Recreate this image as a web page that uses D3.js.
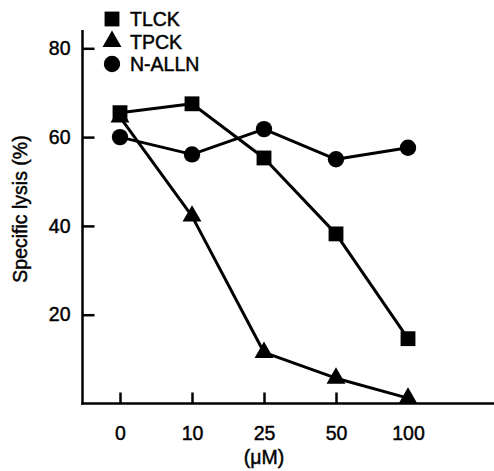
<!DOCTYPE html>
<html><head><meta charset="utf-8">
<script src="https://cdn.jsdelivr.net/npm/d3@7"></script>
<style>
html,body{margin:0;padding:0;background:#fff;}
text{font-family:"Liberation Sans",Arial,Helvetica,sans-serif;fill:#000;stroke:#000;stroke-width:0.45px;}
</style></head>
<body><svg id="c" width="494" height="471"></svg>
<script>
const categories = ["0","10","25","50","100"];
const seriesNames = ["TLCK","TPCK","N-ALLN"];
const tlck = [65.5, 67.5, 55.3, 38.2, 14.6];
const tpck = [64.5, 42.2, 11.5, 5.7, 1.2];
const nalln = [60.0, 56.1, 61.8, 55.0, 57.6];
const yTicks = [20, 40, 60, 80];
const xTitle = "(\u03bcM)";
const yTitle = "Specific lysis (%)";

const svg = d3.select("#c");
const x = d3.scalePoint().domain(categories).range([120, 408]);
const y = d3.scaleLinear().domain([0, 80]).range([403.5, 48.3]);
const X0 = 82.5, X1 = 494, Y0 = 403.5, Ytop = 30;

svg.append("line").attr("x1", X0).attr("x2", X0).attr("y1", Ytop).attr("y2", Y0 + 1.2)
  .attr("stroke", "#000").attr("stroke-width", 2.5);
svg.append("line").attr("x1", X0 - 1.2).attr("x2", X1).attr("y1", Y0).attr("y2", Y0)
  .attr("stroke", "#000").attr("stroke-width", 2.5);

const fs = "19.5px";
const yAxis = svg.append("g").attr("transform", `translate(${X0},0)`)
  .call(d3.axisLeft(y).tickValues(yTicks).tickSizeInner(-12).tickSizeOuter(0).tickPadding(12));
yAxis.select(".domain").remove();
yAxis.selectAll(".tick line").attr("stroke", "#000").attr("stroke-width", 2.5);
yAxis.selectAll(".tick text").style("font-size", fs).attr("font-family", null);

const xAxis = svg.append("g").attr("transform", `translate(0,${Y0})`)
  .call(d3.axisBottom(x).tickSizeInner(-11).tickSizeOuter(0).tickPadding(22));
xAxis.select(".domain").remove();
xAxis.selectAll(".tick line").attr("stroke", "#000").attr("stroke-width", 2.5);
xAxis.selectAll(".tick text").style("font-size", fs).attr("font-family", null).attr("dy", "0.75em").attr("y", 22);

svg.append("text").attr("x", x("25")).attr("y", 464).attr("text-anchor", "middle")
  .style("font-size", fs).text(xTitle);
svg.append("text").attr("transform", "translate(27,209) rotate(-90)").attr("text-anchor", "middle")
  .style("font-size", fs).text(yTitle);

const symbols = [d3.symbolSquare, d3.symbolTriangle, d3.symbolCircle];
const sizes = [220, 155, 210];
const data = [tlck, tpck, nalln];
const line = d3.line().x((d, i) => x(categories[i])).y(d => y(d));

data.forEach((vals, k) => {
  svg.append("path").attr("d", line(vals)).attr("fill", "none")
    .attr("stroke", "#000").attr("stroke-width", 3).attr("stroke-linejoin", "round");
});
data.forEach((vals, k) => {
  svg.append("g").selectAll("path").data(vals).join("path")
    .attr("transform", (d, i) => `translate(${x(categories[i])},${y(d)})`)
    .attr("d", d3.symbol().type(symbols[k]).size(sizes[k]))
    .attr("fill", "#000");
});

const legY = [19, 41.5, 64];
seriesNames.forEach((n, k) => {
  svg.append("path").attr("transform", `translate(112,${legY[k]})`)
    .attr("d", d3.symbol().type(symbols[k]).size(sizes[k])).attr("fill", "#000");
  svg.append("text").attr("x", 130).attr("y", legY[k]).attr("dy", "0.36em")
    .style("font-size", fs).text(n);
});
</script></body></html>
